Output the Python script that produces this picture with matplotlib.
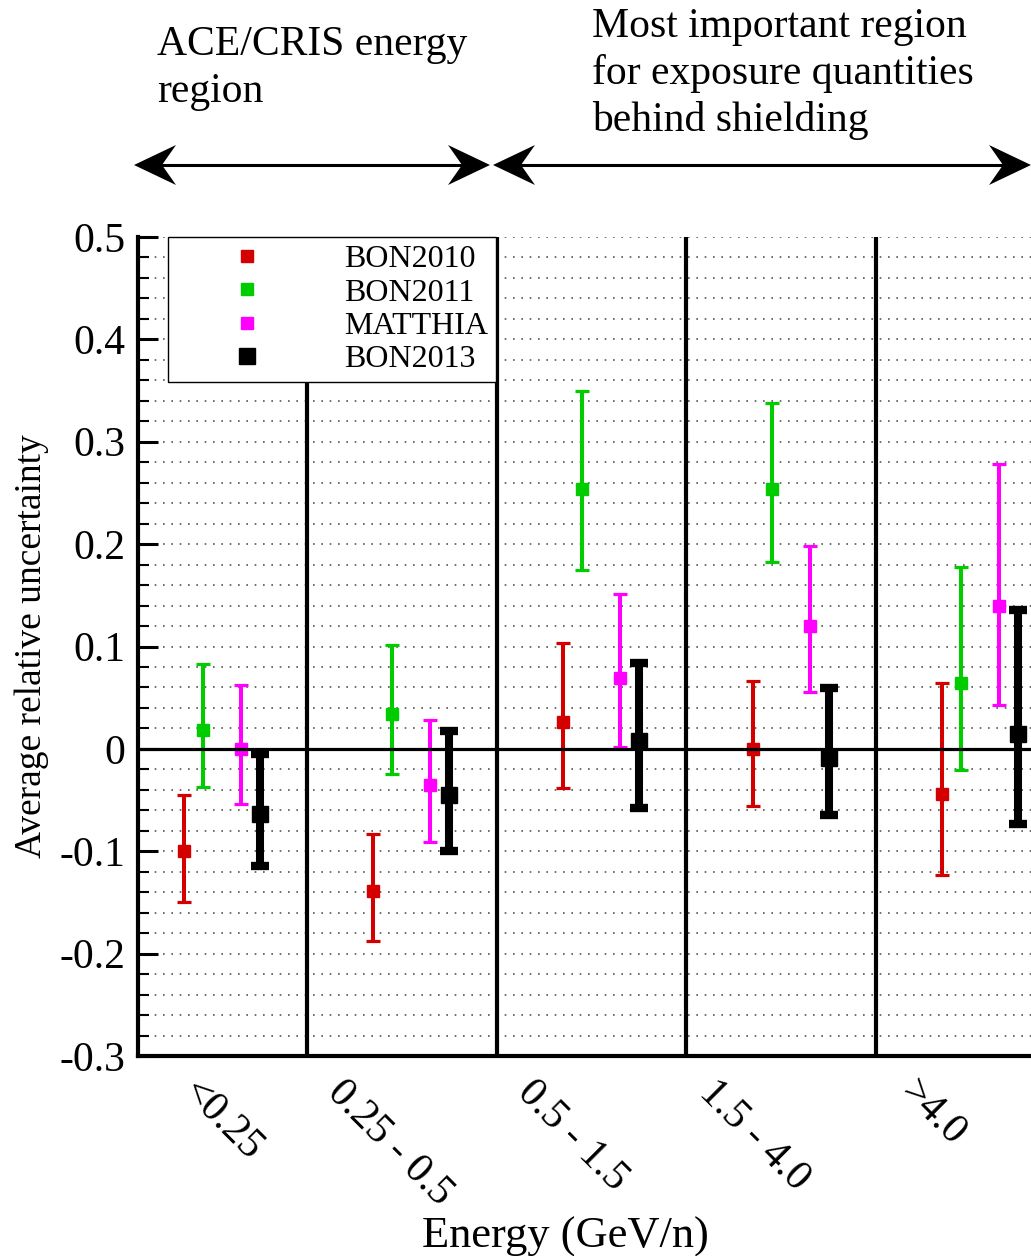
import numpy as np
import matplotlib
matplotlib.use('agg')
from matplotlib import pyplot as plt
from matplotlib.lines import Line2D
from matplotlib.patches import Polygon
from matplotlib.ticker import MultipleLocator

plt.rcParams['font.family'] = ['Liberation Serif', 'DejaVu Serif']

# energy bins
categories = ['<0.25', '0.25 - 0.5', '0.5 - 1.5', '1.5 - 4.0', '>4.0']

# mean value, upper and lower end of the error bar for each model
bon2010 = [-0.100, -0.139, 0.026, 0.000, -0.044]
bon2010_hi = [-0.045, -0.083, 0.103, 0.066, 0.064]
bon2010_lo = [-0.150, -0.188, -0.038, -0.056, -0.123]

bon2011 = [0.018, 0.034, 0.254, 0.254, 0.064]
bon2011_hi = [0.083, 0.101, 0.350, 0.338, 0.178]
bon2011_lo = [-0.037, -0.025, 0.175, 0.183, -0.021]

matthia = [0.000, -0.035, 0.069, 0.120, 0.140]
matthia_hi = [0.062, 0.028, 0.151, 0.198, 0.278]
matthia_lo = [-0.054, -0.091, 0.002, 0.056, 0.043]

bon2013 = [-0.064, -0.045, 0.008, -0.009, 0.015]
bon2013_hi = [-0.005, 0.017, 0.084, 0.059, 0.136]
bon2013_lo = [-0.114, -0.100, -0.058, -0.065, -0.073]

W, H = 1031, 1256
fig = plt.figure(figsize=(W / 100, H / 100), dpi=100)
ax = fig.add_axes([138 / W, 1 - 1056 / H, (W - 138) / W, (1056 - 237) / H])

series = [
    ('BON2010', bon2010, bon2010_lo, bon2010_hi, '#d40000', 0.35, 'thin'),
    ('BON2011', bon2011, bon2011_lo, bon2011_hi, '#00cc00', 0.45, 'thin'),
    ('MATTHIA', matthia, matthia_lo, matthia_hi, '#ff00ff', 0.65, 'thin'),
    ('BON2013', bon2013, bon2013_lo, bon2013_hi, 'black', 0.75, 'thick'),
]

idx = np.arange(len(categories))
handles = []
for name, val, lo, hi, col, off, kind in series:
    val = np.array(val)
    yerr = [val - np.array(lo), np.array(hi) - val]
    if kind == 'thin':
        ms, lw, cs, ct = 9, 2.9, 5, 2.3
    else:
        ms, lw, cs, ct = 11.5, 5.8, 6.2, 6
    ax.errorbar(idx + off, val, yerr=yerr, fmt='s', color=col, ms=ms,
                elinewidth=lw, capsize=cs, capthick=ct, zorder=3)
    handles.append(Line2D([], [], marker='s', ls='none', color=col,
                          ms=ms - 1 if kind == 'thin' else ms + 0.5))

ax.axhline(0, color='black', lw=2.3, zorder=5)
for s in range(1, len(categories)):
    ax.axvline(s, color='black', lw=3, zorder=4)

ax.set_xlim(0.109, 4.817)
ax.set_ylim(-0.3, 0.5)

ax.yaxis.set_major_locator(MultipleLocator(0.1))
ax.yaxis.set_minor_locator(MultipleLocator(0.02))
ax.set_yticks(np.arange(-0.3, 0.51, 0.1))
ax.set_yticklabels(['%g' % round(v, 1) for v in np.arange(-0.3, 0.51, 0.1)])
ax.tick_params(axis='y', which='major', direction='in', length=14.5, width=2.2,
               labelsize=30, pad=9)
ax.tick_params(axis='y', which='minor', direction='in', length=8, width=1.5)
ax.yaxis.grid(True, which='both', color='#555555', lw=1.2, ls=(0, (1, 4)))
ax.set_axisbelow(True)

ax.set_xticks([0.552, 1.438, 2.397, 3.357, 4.30])
ax.set_xticklabels(categories, rotation=-45, ha='center', va='top')
ax.tick_params(axis='x', length=0, labelsize=30, pad=12)

for side in ['top', 'right']:
    ax.spines[side].set_visible(False)
for side in ['left', 'bottom']:
    ax.spines[side].set_linewidth(3)

ax.set_ylabel('Average relative uncertainty', fontsize=27)
ax.yaxis.set_label_coords(-0.1, 0.5)
ax.set_xlabel('Energy (GeV/n)', fontsize=32)
ax.xaxis.set_label_coords(0.479, -0.196)

leg = ax.legend(handles, [s[0] for s in series], loc='upper left',
                bbox_to_anchor=(30 / 893, 1.0), fontsize=23, frameon=True,
                fancybox=False, framealpha=1, edgecolor='black',
                borderaxespad=0, borderpad=0.25, labelspacing=0.12,
                handlelength=4.45, handletextpad=0.8, numpoints=1)
leg.get_frame().set_linewidth(1)
leg.set_zorder(10)

# region annotations above the plot
fig.text(157 / W, 1 - 26 / H, 'ACE/CRIS energy\nregion', fontsize=30,
         ha='left', va='top', linespacing=1.26)
fig.text(592 / W, 1 - 8 / H, 'Most important region\nfor exposure quantities\nbehind shielding',
         fontsize=30, ha='left', va='top', linespacing=1.26)


def px(x, y):
    return (x / W, 1 - y / H)


def double_arrow(x0, x1, y=165):
    fig.add_artist(Line2D([x0 / W + 0.01, x1 / W - 0.01], [1 - y / H] * 2,
                          transform=fig.transFigure, color='black', lw=2.2))
    head = [(0, 0), (42, -20), (28, 0), (42, 20)]
    fig.add_artist(Polygon([px(x0 + dx, y + dy) for dx, dy in head],
                           closed=True, transform=fig.transFigure,
                           color='black', lw=0))
    fig.add_artist(Polygon([px(x1 - dx, y + dy) for dx, dy in head],
                           closed=True, transform=fig.transFigure,
                           color='black', lw=0))


double_arrow(134, 490)
double_arrow(493, 1031)

fig.savefig('out.png', dpi=100)
